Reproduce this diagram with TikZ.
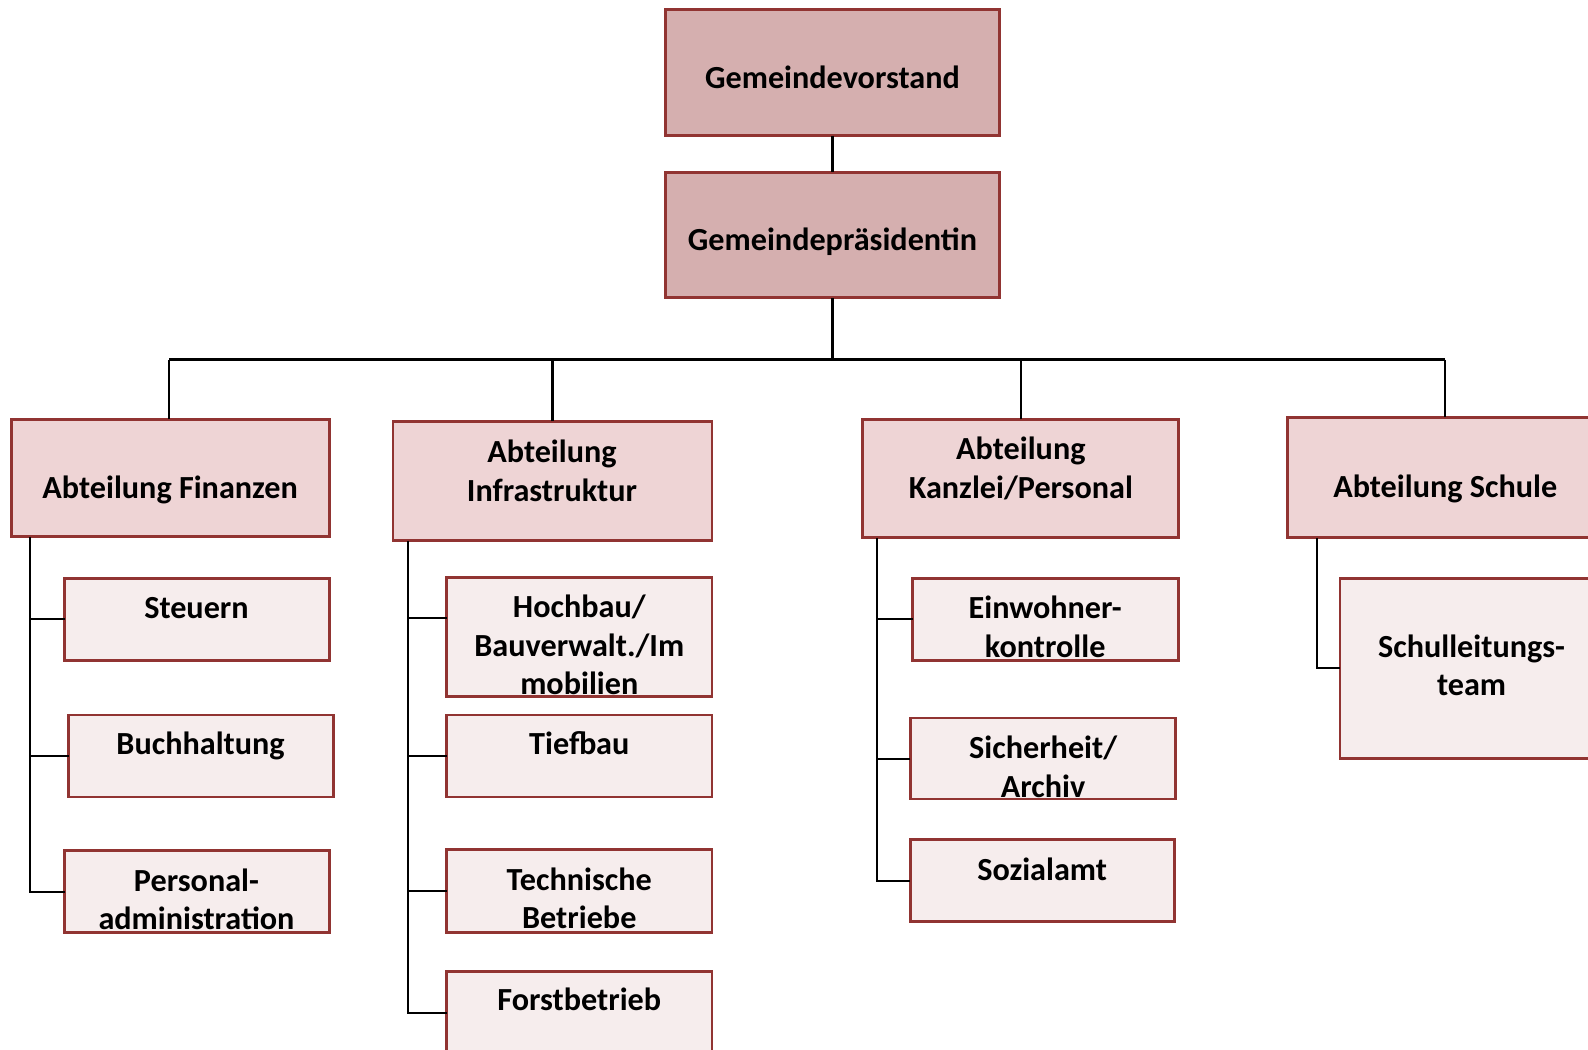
\documentclass[tikz,border=0pt]{standalone}
\usepackage{fontspec}
\setmainfont{Carlito}
\definecolor{bord}{RGB}{145,52,50}
\definecolor{topfill}{RGB}{213,175,175}
\definecolor{depfill}{RGB}{238,212,213}
\definecolor{subfill}{RGB}{246,237,237}
\newcommand\mybox[6]{\node[#6, anchor=north west, minimum width={(#4-#2)*0.50638pt}, minimum height={(#5-#3)*0.50638pt}] (#1) at (#2,#3) {};}
\newcommand\mytxt[4]{\node[txt] (#1) at (#2,#3) {\begin{tabular}[t]{@{}c@{}}#4\end{tabular}};}
\begin{document}
\begin{tikzpicture}[x=0.50638pt,y=-0.50638pt,
  boxbase/.style={draw=bord, line width=1.4pt, inner sep=0pt, outer sep=0pt},
  topbox/.style={boxbase, fill=topfill},
  depbox/.style={boxbase, fill=depfill},
  subbox/.style={boxbase, fill=subfill},
  txt/.style={anchor=base, inner sep=0pt, font=\fontsize{16.1}{19.24}\selectfont\bfseries},
  conn/.style={draw=black, line width=1.05pt}]
\useasboundingbox (0,0) rectangle (1568,1035.8);
\clip (0,0) rectangle (1568,1035.8);
% top
\mybox{gv}{657}{9}{987}{134}{topbox}
\mybox{gp}{657}{170}{987}{294}{topbox}
% departments
\mybox{fin}{11}{414}{325}{530}{depbox}
\mybox{inf}{388}{416}{703}{534}{depbox}
\mybox{kan}{852}{414}{1164}{531}{depbox}
\mybox{sch}{1271}{412}{1590}{531}{depbox}
% Finanzen children
\mybox{st}{64}{571}{325}{652}{subbox}
\mybox{bu}{68}{706}{329}{787}{subbox}
\mybox{pa}{64}{840}{325}{921}{subbox}
% Infrastruktur children
\mybox{hb}{441}{570}{703}{688}{subbox}
\mybox{tb}{441}{706}{703}{787}{subbox}
\mybox{te}{441}{839}{703}{921}{subbox}
\mybox{fo}{441}{959}{703}{1060}{subbox}
% Kanzlei children
\mybox{ek}{901}{571}{1164}{652}{subbox}
\mybox{si}{899}{709}{1161}{789}{subbox}
\mybox{so}{899}{829}{1160}{910}{subbox}
% Schule children
\mybox{sl}{1323}{571}{1590}{749}{subbox}
% texts
\mytxt{tgv}{822}{87}{Gemeindevorstand}
\mytxt{tgp}{822}{247}{Gemeindepräsidentin}
\mytxt{tfin}{168}{492}{Abteilung Finanzen}
\mytxt{tinf}{545}{457}{Abteilung\\Infrastruktur}
\mytxt{tkan}{1008}{454}{Abteilung\\Kanzlei/Personal}
\mytxt{tsch}{1427}{491}{Abteilung Schule}
\mytxt{tst}{194}{611}{Steuern}
\mytxt{tbu}{198}{745}{Buchhaltung}
\mytxt{tpa}{194}{880}{Personal-\\administration}
\mytxt{thb}{572}{610}{Hochbau/\\Bauverwalt./Im\\mobilien}
\mytxt{ttb}{572}{745}{Tiefbau}
\mytxt{tte}{572}{879}{Technische\\Betriebe}
\mytxt{tfo}{572}{998}{Forstbetrieb}
\mytxt{tek}{1032}{611}{Einwohner-\\kontrolle}
\mytxt{tsi}{1030}{749}{Sicherheit/\\Archiv}
\mytxt{tso}{1029}{869}{Sozialamt}
\mytxt{tsl}{1453}{649}{Schulleitungs-\\team}
% connectors
\coordinate (busL) at (167,355);
\coordinate (busR) at (1427,355);
\draw[conn] (gv.south) -- (gp.north);
\draw[conn] (gp.south) -- (gp.south |- busL);
\draw[conn] (busL) -- (busR);
\draw[conn] (busL) -- (busL |- fin.north);
\draw[conn] (inf.north) -- (inf.north |- busL);
\draw[conn] (kan.north) -- (kan.north |- busL);
\draw[conn] (busR) -- (busR |- sch.north);
% Finanzen branch
\coordinate (finx) at (30,530);
\draw[conn] (finx) |- (pa.west);
\draw[conn] (st.west) -- (st.west -| finx);
\draw[conn] (bu.west) -- (bu.west -| finx);
% Infrastruktur branch
\coordinate (infx) at (403,534);
\coordinate (fob) at (441,1000);
\draw[conn] (infx) |- (fob);
\draw[conn] ([yshift=9.6pt]hb.west) -- ([yshift=9.6pt]hb.west -| infx);
\draw[conn] (tb.west) -- (tb.west -| infx);
\draw[conn] (te.west) -- (te.west -| infx);
% Kanzlei branch
\coordinate (kanx) at (866,531);
\draw[conn] (kanx) |- (so.west);
\draw[conn] (ek.west) -- (ek.west -| kanx);
\draw[conn] (si.west) -- (si.west -| kanx);
% Schule branch
\coordinate (schx) at (1300,531);
\draw[conn] (schx) |- (sl.west);
\end{tikzpicture}
\end{document}
